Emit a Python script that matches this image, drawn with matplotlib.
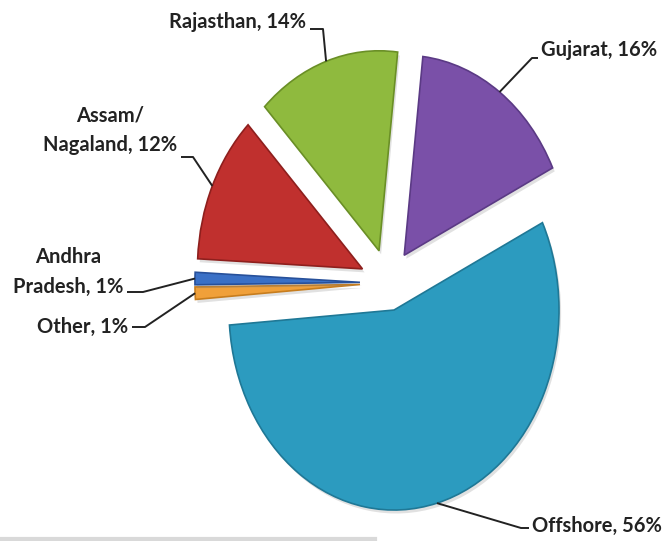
import numpy as np
import matplotlib
matplotlib.use("Agg")
import matplotlib.pyplot as plt
import matplotlib.patheffects as pe

# production share by region
regions = ["Gujarat", "Offshore", "Other", "Andhra\nPradesh", "Assam/\nNagaland", "Rajasthan"]
shares = [16, 56, 1, 1, 12, 14]
colors = ["#7a50a8", "#2c9bbf", "#f0a03a", "#3a70c6", "#c0302e", "#8fba3e"]
edges = ["#5b3a85", "#1f7896", "#c77d1e", "#27509a", "#8e1f1d", "#6a8f26"]
explode = [0.17, 0.14, 0.17, 0.17, 0.17, 0.17]

W, H = 662, 541
cx, cy = 388, 283      # pie centre in pixels
rx, ry = 165, 200      # pie radius in pixels (stretched vertically)


def px(x, y):
    return (x - cx) / rx, (cy - y) / ry


fig = plt.figure(figsize=(W / 100, H / 100), dpi=100)
ax = fig.add_axes([0, 0, 1, 1])

wedges, _ = ax.pie(shares, colors=colors, startangle=83.5, counterclock=False,
                   explode=explode, wedgeprops=dict(linewidth=1.2))
for w, ec in zip(wedges, edges):
    w.set_edgecolor(ec)
    w.set_path_effects([pe.SimplePatchShadow(offset=(1.5, -2.5), shadow_rgbFace="#888888", alpha=0.25),
                        pe.Normal()])

ax.set_aspect("auto")
ax.set_xlim(px(0, 0)[0], px(W, 0)[0])
ax.set_ylim(px(0, H)[1], px(0, 0)[1])
ax.axis("off")

font = dict(family=["Lato", "DejaVu Sans"], weight="bold", size=14.5, color="#222222")

# label placement: text anchor, alignment, elbow of the leader line, text end of leader
layout = {
    "Gujarat": ((541, 50), "left", (532, 58), (538, 58)),
    "Offshore": ((532, 526), "left", (521, 528), (529, 528)),
    "Other": ((128, 327), "right", (145, 327), (132, 327)),
    "Andhra\nPradesh": ((123, 272), "right", (143, 292), (127, 292)),
    "Assam/\nNagaland": ((177, 130), "right", (193, 157), (181, 157)),
    "Rajasthan": ((306, 22), "right", (323, 29), (310, 29)),
}

for w, name, val in zip(wedges, regions, shares):
    (tx, ty), ha, elbow, tend = layout[name]
    ang = np.deg2rad((w.theta1 + w.theta2) / 2)
    ex, ey = w.center
    tip = (ex + w.r * np.cos(ang), ey + w.r * np.sin(ang))
    pts = [tip, px(*elbow), px(*tend)]
    ax.plot([p[0] for p in pts], [p[1] for p in pts], color="#222222", lw=1.4,
            solid_capstyle="butt", zorder=3)
    ax.text(*px(tx, ty), f"{name}, {val}%", ha=ha, va="center",
            multialignment="center", linespacing=1.6, **font)

# faint rule along the bottom edge
ax.plot([px(0, 0)[0], px(375, 0)[0]], [px(0, 539)[1]] * 2, color="#d9d9d9", lw=3)

fig.savefig("out.png", dpi=100)
